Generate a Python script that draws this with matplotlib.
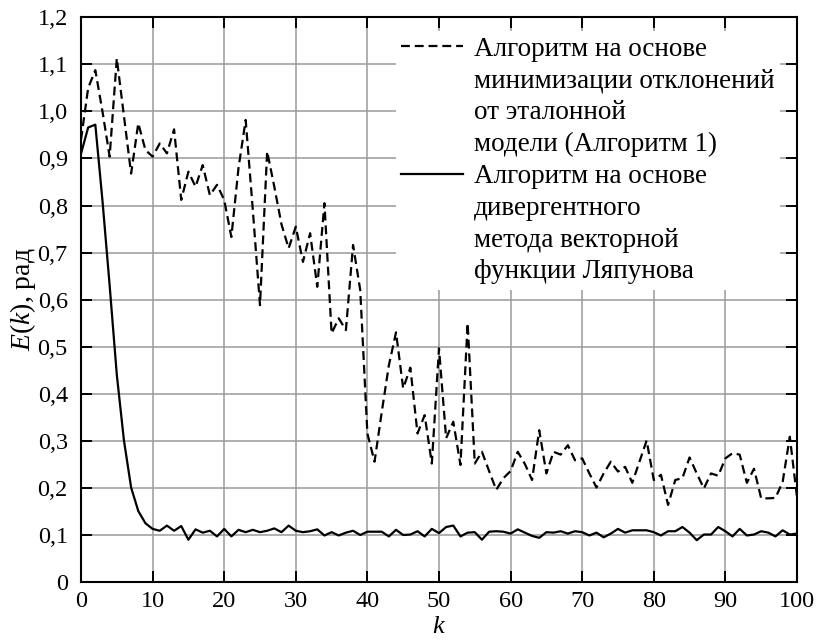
import matplotlib
matplotlib.use("Agg")
import matplotlib.pyplot as plt
from matplotlib.lines import Line2D
import numpy as np

plt.rcParams['font.family'] = ['Liberation Serif', 'DejaVu Serif']
plt.rcParams['mathtext.fontset'] = 'custom'
plt.rcParams['mathtext.rm'] = 'Liberation Serif'
plt.rcParams['mathtext.it'] = 'Liberation Serif:italic'

k = list(range(0, 101))

alg1 = [0.94, 1.05, 1.088, 1.0, 0.904, 1.113, 0.99, 0.868, 0.975, 0.918,
        0.904, 0.932, 0.911, 0.962, 0.812, 0.872, 0.84, 0.886, 0.822, 0.844,
        0.812, 0.733, 0.88, 0.982, 0.79, 0.588, 0.915, 0.84, 0.76, 0.709,
        0.755, 0.68, 0.741, 0.627, 0.805, 0.528, 0.56, 0.535, 0.716, 0.62,
        0.315, 0.255, 0.36, 0.46, 0.53, 0.411, 0.455, 0.315, 0.354, 0.251,
        0.496, 0.305, 0.34, 0.248, 0.55, 0.251, 0.276, 0.235, 0.195, 0.22,
        0.235, 0.276, 0.25, 0.216, 0.322, 0.23, 0.276, 0.27, 0.29, 0.258,
        0.262, 0.23, 0.2, 0.23, 0.255, 0.234, 0.244, 0.21, 0.255, 0.3,
        0.216, 0.227, 0.163, 0.216, 0.22, 0.264, 0.23, 0.198, 0.23, 0.225,
        0.262, 0.273, 0.27, 0.21, 0.24, 0.177, 0.177, 0.178, 0.212, 0.308,
        0.18]

lyap = [0.91, 0.966, 0.972, 0.81, 0.63, 0.44, 0.30, 0.20, 0.15, 0.124,
        0.112, 0.108, 0.119, 0.108, 0.118, 0.089, 0.111, 0.104, 0.108, 0.096,
        0.112, 0.096, 0.11, 0.105, 0.11, 0.105, 0.108, 0.113, 0.105, 0.119,
        0.108, 0.105, 0.107, 0.111, 0.098, 0.105, 0.098, 0.104, 0.108, 0.099,
        0.106, 0.106, 0.106, 0.096, 0.11, 0.099, 0.1, 0.107, 0.096, 0.112,
        0.103, 0.116, 0.119, 0.096, 0.104, 0.105, 0.089, 0.106, 0.107, 0.106,
        0.102, 0.111, 0.104, 0.097, 0.093, 0.105, 0.104, 0.107, 0.102, 0.107,
        0.105, 0.098, 0.104, 0.094, 0.102, 0.112, 0.104, 0.109, 0.109, 0.109,
        0.105, 0.098, 0.107, 0.107, 0.116, 0.104, 0.088, 0.1, 0.1, 0.116,
        0.107, 0.096, 0.112, 0.098, 0.1, 0.107, 0.104, 0.096, 0.109, 0.1,
        0.102]

label1 = ["Алгоритм на основе", "минимизации отклонений", "от эталонной", "модели (Алгоритм 1)"]
label2 = ["Алгоритм на основе", "дивергентного", "метода векторной", "функции Ляпунова"]

xticks = list(range(0, 101, 10))
yticks = [0, 0.1, 0.2, 0.3, 0.4, 0.5, 0.6, 0.7, 0.8, 0.9, 1.0, 1.1, 1.2]
yticklabels = ["0", "0,1", "0,2", "0,3", "0,4", "0,5", "0,6", "0,7", "0,8", "0,9", "1,0", "1,1", "1,2"]

fig = plt.figure(figsize=(8.19, 6.43), dpi=100)
ax = fig.add_axes([0.0989, 0.0956, 0.8742, 0.8772])

l1, = ax.plot(k, alg1, color='black', lw=1.6, linestyle=(0, (4, 2.2)))
l2, = ax.plot(k, lyap, color='black', lw=1.6)

ax.set_xlim(0, 100)
ax.set_ylim(0, 1.2)
ax.set_xticks(xticks)
ax.set_yticks(yticks)
ax.set_yticklabels(yticklabels)
ax.grid(True, color='#9a9a9a', lw=1.1)
ax.set_axisbelow(True)
ax.tick_params(direction='in', length=8, width=1.4, top=True, right=True,
               labelsize=17.5, colors='black')
ax.tick_params(axis='y', pad=9.5)
ax.tick_params(axis='x', pad=7)
for s in ax.spines.values():
    s.set_linewidth(1.5)

ax.set_xlabel(r"$k$", fontsize=19)
ax.set_ylabel(r"$E(k)$, рад", fontsize=20)
ax.yaxis.set_label_coords(-0.06, 0.5)
ax.xaxis.set_label_coords(0.5, -0.061)

blank = Line2D([], [], color='none')
handles = [l1, blank, blank, blank, l2, blank, blank, blank]
labels = label1 + label2
leg = ax.legend(handles, labels, loc='upper right', bbox_to_anchor=(0.984, 0.985),
                fontsize=19.5, frameon=True, fancybox=False, framealpha=1,
                edgecolor='none', facecolor='white', handlelength=2.3,
                handletextpad=0.4, labelspacing=0.25, borderpad=0.2,
                borderaxespad=0.2)

fig.savefig("out.png", dpi=100)
